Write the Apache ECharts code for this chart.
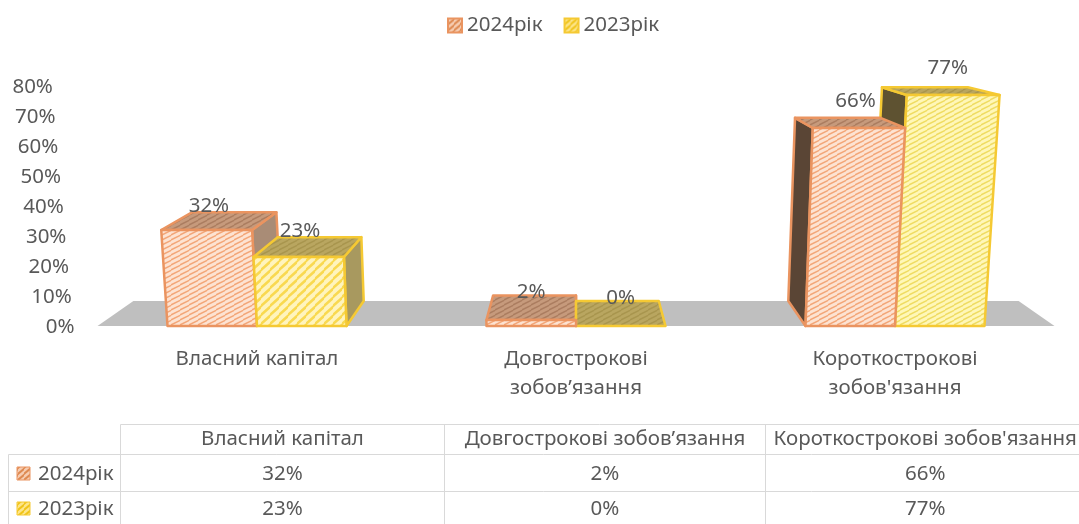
<!DOCTYPE html>
<html lang="uk">
<head>
    <meta charset="UTF-8">
    <title>Структура капіталу</title>
    <style>
        html, body { margin: 0; padding: 0; background: #fff; }
        #main { width: 1079px; height: 524px; }
    </style>
</head>
<body>
    <div id="main"></div>
    <script src="https://cdn.jsdelivr.net/npm/echarts@6/dist/echarts.min.js"></script>
    <script>
        const categories = ['Власний капітал', 'Довгострокові\nзобов’язання', "Короткострокові\nзобов'язання"];
        const seriesNames = ['2024рік', '2023рік'];
        const values2024 = [32, 2, 66];
        const values2023 = [23, 0, 77];
        const yTicks = [0, 10, 20, 30, 40, 50, 60, 70, 80];

        const FONT = '"Noto Sans", sans-serif';
        const SIZE = 20.5;
        const TEXT = '#595959';
        const LINE = '#d9d9d9';
        // perspective of the picture: vanishing x, widening with height, depth of the floor
        const SPREAD = 0.00016, DEPTH = 0.925, DEPTH_PX = 25, BAR_W = 89.5;

        // hatch tile: lines rising to the right, dx/dy set the slope
        function hatch(bg, fg, w, h, lw) {
            const c = document.createElement('canvas');
            c.width = w; c.height = h;
            const g = c.getContext('2d');
            g.fillStyle = bg;
            g.fillRect(0, 0, w, h);
            g.strokeStyle = fg;
            g.lineWidth = lw;
            for (let i = -1; i <= 1; i++) {
                g.beginPath();
                g.moveTo(-1, h * (i + 1) + h / (w + 2));
                g.lineTo(w + 1, h * i);
                g.stroke();
            }
            return { image: c, repeat: 'repeat' };
        }

        const orange = {
            border: '#ea9460',
            front: hatch('#fde3d2', '#f3a678', 9, 5, 1.5),
            top: hatch('#c69a7c', '#ab7d60', 9, 5, 1.5),
            side: ['#a98c76', '#a98c76', '#5a4535'],
            icon: hatch('#f6cdb2', '#de8a52', 6, 6, 2)
        };
        const yellow = {
            border: '#f5c933',
            front: [hatch('#fff4bd', '#f9d950', 9, 9, 2.6), hatch('#fff4bd', '#f9d950', 9, 9, 2.6), hatch('#fff7b8', '#efdc62', 9, 5, 1.5)],
            top: hatch('#b9a660', '#a8954e', 9, 5, 1.5),
            side: ['#a8995f', '#a8995f', '#5e5231'],
            icon: hatch('#fde58a', '#f0c419', 6, 6, 2)
        };

        // how far a value label sits above the back edge of its bar
        const labelLift = [
            function () { return 6; },
            function () { return 3; },
            function (h) { return 2.5 + h * 0.07; }
        ];

        function barRenderer(look, side) {
            return function (params, api) {
                const cat = api.value(0);
                const val = api.value(1);
                const base = api.coord([cat, 0]);
                const topPt = api.coord([cat, val]);
                const rect = params.coordSys;
                const cx = rect.x + rect.width / 2;
                const h = base[1] - topPt[1];
                const x0 = side < 0 ? base[0] - BAR_W : base[0];
                const x1 = x0 + BAR_W;
                const floorBack = base[1] - DEPTH_PX;
                const f = function (x, hh) { return cx + (x - cx) * (1 + SPREAD * hh); };
                const b = function (x, hh) { return cx + (x - cx) * DEPTH * (1 + SPREAD * hh); };
                const backY = floorBack - h * DEPTH;
                const stroke = { stroke: look.border, lineWidth: 2.5, lineJoin: 'round' };
                const nearX = (x0 + x1) / 2 < cx ? x1 : x0;
                const order = -Math.abs((x0 + x1) / 2 - cx);
                const frontFill = look.front.image ? look.front : look.front[cat];
                const kids = [];
                // side wall toward the middle of the chart
                kids.push({
                    type: 'polygon',
                    shape: { points: [[f(nearX, 0), base[1]], [f(nearX, h), topPt[1]], [b(nearX, h), backY], [b(nearX, 0), floorBack]] },
                    style: Object.assign({ fill: look.side[cat] }, stroke),
                    z2: order
                });
                kids.push({
                    type: 'polygon',
                    shape: { points: [[f(x0, h), topPt[1]], [f(x1, h), topPt[1]], [b(x1, h), backY], [b(x0, h), backY]] },
                    style: Object.assign({ fill: look.top }, stroke),
                    z2: order + 0.1
                });
                if (h > 0) {
                    kids.push({
                        type: 'polygon',
                        shape: { points: [[f(x0, 0), base[1]], [f(x1, 0), base[1]], [f(x1, h), topPt[1]], [f(x0, h), topPt[1]]] },
                        style: Object.assign({ fill: frontFill }, stroke),
                        z2: order + 0.2
                    });
                }
                kids.push({
                    type: 'text',
                    x: cx + ((x0 + x1) / 2 - cx) * (1 + SPREAD * 0.6 * h),
                    y: backY - labelLift[cat](h),
                    style: { text: val + '%', fill: TEXT, font: SIZE + 'px ' + FONT, align: 'center', verticalAlign: 'middle' },
                    z2: 500
                });
                return { type: 'group', children: kids };
            };
        }

        function floorRenderer(params) {
            const r = params.coordSys;
            const cx = r.x + r.width / 2;
            const y0 = r.y + r.height;
            const l = r.x, rr = r.x + r.width;
            return {
                type: 'polygon',
                shape: { points: [[l, y0], [rr, y0], [cx + (rr - cx) * DEPTH, y0 - DEPTH_PX], [cx + (l - cx) * DEPTH, y0 - DEPTH_PX]] },
                style: { fill: '#bfbfbf' },
                z2: -1000
            };
        }

        // left edge of the tick labels leans with the perspective
        const tickRich = {};
        yTicks.forEach(function (t) {
            tickRich['t' + t] = { padding: [3, t === 0 ? 0 : t * 0.27, 0, 0], fontFamily: FONT, fontSize: SIZE, color: TEXT };
        });

        function tableGraphics() {
            const els = [];
            const colX = [120.5, 444.5, 765.5, 1085];
            const rowY = [424.5, 454.5, 491.5, 530];
            const rows = [values2024, values2023];
            const looks = [orange, yellow];
            function line(x1, y1, x2, y2) {
                els.push({ type: 'line', shape: { x1: x1, y1: y1, x2: x2, y2: y2 }, style: { stroke: LINE, lineWidth: 1 } });
            }
            function text(s, x, y, align) {
                els.push({ type: 'text', x: x, y: y, style: { text: s, fill: TEXT, font: SIZE + 'px ' + FONT, align: align, verticalAlign: 'middle' } });
            }
            line(colX[0], rowY[0], 1079, rowY[0]);
            line(8.5, rowY[1], 1079, rowY[1]);
            line(8.5, rowY[2], 1079, rowY[2]);
            line(8.5, rowY[1], 8.5, 524);
            colX.slice(0, 3).forEach(function (x) { line(x, rowY[0], x, 524); });
            categories.forEach(function (c, i) {
                text(c.replace('\n', ' '), (colX[i] + colX[i + 1]) / 2, 439, 'center');
            });
            rows.forEach(function (vals, r) {
                const y = r === 0 ? 474 : 509;
                els.push({ type: 'rect', shape: { x: 17, y: y - 7, width: 13, height: 13 }, style: { fill: looks[r].icon, stroke: looks[r].border, lineWidth: 1 } });
                text(seriesNames[r], 38, y, 'left');
                vals.forEach(function (v, i) {
                    text(v + '%', (colX[i] + colX[i + 1]) / 2, y, 'center');
                });
            });
            return els;
        }

        const myChart = echarts.init(document.getElementById('main'));
        myChart.setOption({
            animation: false,
            textStyle: { fontFamily: FONT },
            legend: {
                data: seriesNames,
                left: 442,
                top: 10,
                itemWidth: 14,
                itemHeight: 14,
                itemGap: 21,
                icon: 'rect',
                textStyle: { color: TEXT, fontSize: SIZE, fontFamily: FONT }
            },
            grid: { left: 97.5, top: 86, width: 957, height: 240, containLabel: false },
            xAxis: {
                type: 'category',
                data: categories,
                axisLine: { show: false },
                axisTick: { show: false },
                axisLabel: { color: TEXT, fontSize: SIZE, fontFamily: FONT, lineHeight: 29, margin: 19, interval: 0 }
            },
            yAxis: {
                type: 'value',
                min: 0,
                max: 80,
                interval: 10,
                splitLine: { show: false },
                axisLine: { show: false },
                axisTick: { show: false },
                axisLabel: {
                    margin: 23,
                    formatter: function (v) { return '{t' + v + '|' + v + '%}'; },
                    rich: tickRich
                }
            },
            series: [
                { type: 'custom', name: 'floor', silent: true, data: [[0]], renderItem: floorRenderer, encode: { x: 0 } },
                {
                    type: 'custom',
                    name: seriesNames[0],
                    renderItem: barRenderer(orange, -1),
                    data: values2024.map(function (v, i) { return [i, v]; }),
                    encode: { x: 0, y: 1 },
                    itemStyle: { color: orange.icon, borderColor: orange.border, borderWidth: 1 }
                },
                {
                    type: 'custom',
                    name: seriesNames[1],
                    renderItem: barRenderer(yellow, 1),
                    data: values2023.map(function (v, i) { return [i, v]; }),
                    encode: { x: 0, y: 1 },
                    itemStyle: { color: yellow.icon, borderColor: yellow.border, borderWidth: 1 }
                }
            ],
            graphic: { elements: tableGraphics() }
        });
    </script>
</body>
</html>
